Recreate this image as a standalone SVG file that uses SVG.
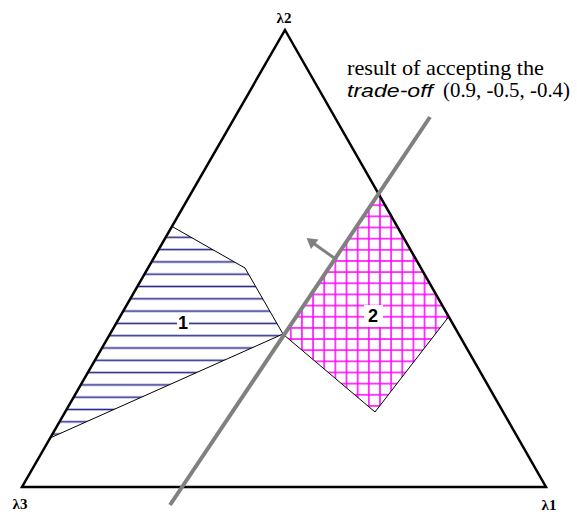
<svg xmlns="http://www.w3.org/2000/svg" width="577" height="512" viewBox="0 0 577 512">
<style>
.tri{fill:none;stroke:#000;stroke-width:2.5;stroke-linejoin:miter}
.edge{fill:none;stroke:#000;stroke-width:1}
.gray{stroke:#808080;stroke-width:4;fill:none}
.vlab{font-family:"Liberation Serif",serif;font-size:15px;font-weight:bold;fill:#000;text-anchor:middle}
.rlab{font-family:"Liberation Sans",Arial,sans-serif;font-size:18px;font-weight:bold;fill:#000;text-anchor:middle}
.serif{font-family:"Liberation Serif",serif;font-size:21px;fill:#000}
.ital{font-family:"Liberation Sans",sans-serif;font-style:italic;font-size:18px;fill:#000}
</style>
<defs>
<pattern id="hatch" patternUnits="userSpaceOnUse" x="0" y="231.15" width="20" height="12.3">
<line x1="0" y1="6.15" x2="20" y2="6.15" stroke="#2b2b8c" stroke-width="1.6"/>
</pattern>
<pattern id="grid" patternUnits="userSpaceOnUse" x="374.4" y="277.7" width="11.15" height="11.15">
<line x1="0" y1="5.575" x2="11.15" y2="5.575" stroke="#ff00ff" stroke-width="1.5"/>
<line x1="5.575" y1="0" x2="5.575" y2="11.15" stroke="#ff00ff" stroke-width="1.5"/>
</pattern>
</defs>
<rect width="577" height="512" fill="#fff"/>
<g id="region1">
<polygon points="173,227 245,268 283,334 50,438" fill="url(#hatch)"/>
<polyline class="edge" points="173,227 245,268 283,334 50,438"/>
<rect x="177" y="314" width="12" height="18" fill="#fff"/>
<text class="rlab" x="183" y="329">1</text>
</g>
<g id="region2">
<polygon points="380.4,194 448.5,317 375,412 284,335" fill="url(#grid)"/>
<polyline class="edge" points="448.5,317 375,412 284,335"/>
<rect x="364" y="305" width="19" height="22" fill="#fff"/>
<text class="rlab" x="373" y="322">2</text>
</g>
<g id="triangle">
<polygon class="tri" points="285,30 546,487 22,487"/>
<text class="vlab" x="284" y="23">λ2</text>
<text class="vlab" x="20" y="509">λ3</text>
<text class="vlab" x="549" y="510">λ1</text>
</g>
<g id="connectors">
<line class="gray" x1="430" y1="117" x2="170" y2="505"/>
<line x1="337" y1="260" x2="313" y2="243" stroke="#808080" stroke-width="3"/>
<polygon points="306.5,238 318.5,239.5 311,249" fill="#808080"/>
</g>
<g id="caption">
<text class="serif" x="347" y="75" textLength="197" lengthAdjust="spacingAndGlyphs">result of accepting the</text>
<text class="ital" x="347" y="97" textLength="86" lengthAdjust="spacingAndGlyphs">trade-off</text>
<text class="serif" x="443" y="97" textLength="127" lengthAdjust="spacingAndGlyphs">(0.9, -0.5, -0.4)</text>
</g>
</svg>
